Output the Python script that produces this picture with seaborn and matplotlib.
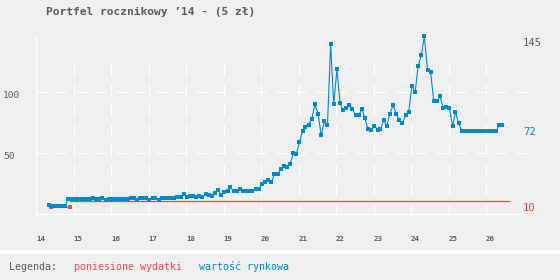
import numpy as np
import pandas as pd
import matplotlib
matplotlib.use("Agg")
import matplotlib.pyplot as plt
import matplotlib.transforms as mtransforms
from matplotlib.lines import Line2D
import seaborn as sns

# wartość rynkowa portfela - odczyty miesięczne od maja 2014
pierwszy_miesiac = "2014-05-01"
wartosc = [
    6.7, 6.0, 6.0, 6.0, 6.0, 6.0,
    12.0, 12.0, 12.0, 12.0, 12.0, 12.0, 12.0, 12.0, 12.8, 12.0, 12.0, 12.8, 11.4, 12.0,
    12.0, 12.0, 12.0, 12.0, 12.0, 12.0, 12.8, 12.8, 11.4, 12.4, 12.4, 12.4,
    11.4, 12.4, 12.4, 11.4, 12.4, 12.4, 12.4, 12.4, 12.4, 13.3, 13.3, 16.0,
    13.3, 14.1, 14.1, 13.3, 14.1, 13.3, 16.0, 15.0, 14.1, 16.8, 19.0, 14.9,
    17.6, 18.2, 21.5, 18.2, 18.8, 19.9, 18.2, 18.8, 18.2, 18.8, 19.8, 19.8,
    23.9, 25.6, 27.3, 25.6, 32.1, 32.1, 36.2, 38.7, 37.9, 40.3, 49.3, 48.5,
    58.4, 67.5, 71.0, 73.0, 77.3, 89.5, 82.0, 64.2, 75.5, 72.3, 139.0, 89.6,
    118.2, 90.3, 84.7, 86.2, 88.7, 86.0, 80.5, 80.5, 85.6, 78.0, 69.0, 68.4,
    72.0, 68.4, 69.0, 76.5, 71.6, 82.0, 88.7, 82.0, 76.5, 73.9, 80.5, 83.0,
    104.9, 99.3, 120.7, 129.7, 145.3, 117.4, 115.8, 92.1, 92.1, 96.0, 86.3, 87.0,
    86.2, 71.6, 83.1, 73.9, 67.5, 67.5, 67.5, 67.5, 67.5, 67.5, 67.5, 67.5,
    67.5, 67.5, 67.5, 67.5, 72.3, 72.3,
]

# poniesione wydatki (5 zł, potem 10 zł)
wydatki_daty = ["2014-05-27", "2014-11-27", "2014-11-27", "2026-08-10"]
wydatki = [5, 5, 10, 10]

lata = list(range(14, 27))
etykiety_lat = [str(r) for r in lata]
poziomy_siatki = [50, 100]

tytul = "Portfel rocznikowy \u201914 - (5 z\u0142)"
opis_legendy = ["poniesione wydatki", "warto\u015b\u0107 rynkowa"]

NIEBIESKI = "#0088cc"
CZERWONY = "#f04848"
SZARY = "#5c5c5c"
TLO = "#efefef"
PX = 0.72  # 1 px w punktach przy dpi=100
W, H = 560, 280


def na_lata(daty):
    d = pd.Series(pd.to_datetime(daty))
    return (d.dt.year - 2000 + (d.dt.dayofyear - 1) / 365.25).to_numpy()


def main():
    plt.rcParams["font.family"] = ["DejaVu Sans Mono", "DejaVu Sans"]

    daty = pd.date_range(pierwszy_miesiac, periods=len(wartosc), freq="MS") + pd.Timedelta(days=9)
    df = pd.DataFrame({"rok": na_lata(daty), "wartosc": wartosc})
    wyd_x = na_lata(wydatki_daty)

    fig = plt.figure(figsize=(W / 100, H / 100), dpi=100, facecolor=TLO)
    # obszar wykresu: x 14 -> 36 px, 37.5 px/rok; y 0 -> 213.5 px, 1.22 px/jedn.
    x0, x1 = 14, 14 + (530 - 36) / 37.5
    y0, y1 = -2.3, 145.6
    ax = fig.add_axes([36 / W, (H - 216.3) / H, 494 / W, 180.3 / H])
    ax.set_facecolor(TLO)
    ax.set_xlim(x0, x1)
    ax.set_ylim(y0, y1)
    for s in ax.spines.values():
        s.set_visible(False)

    # siatka
    ax.vlines(lata[1:], y0, 122.5, colors="white", lw=PX * 1.2,
              linestyles=(0, (12 / 1.2, 8 / 1.2)), zorder=1)
    ax.hlines(poziomy_siatki, x0, 14 + (527 - 36) / 37.5, colors="white", lw=PX * 1.2,
              linestyles=(0, (10 / 1.2, 10 / 1.2)), zorder=1)
    ax.vlines([x0], y0, y1, colors="white", lw=PX * 1.3, zorder=1)
    ax.hlines([-0.4], x0, 14 + (525 - 36) / 37.5, colors="white", lw=PX * 1.3, zorder=1)

    # wydatki
    sns.lineplot(x=wyd_x[:2], y=wydatki[:2], color=CZERWONY, lw=PX * 1.1, marker="s",
                 markersize=PX * 3.2, markeredgewidth=0, ax=ax, zorder=3)
    sns.lineplot(x=wyd_x[2:], y=wydatki[2:], color=CZERWONY, lw=PX * 1.3, ax=ax, zorder=3)

    # wartość rynkowa
    sns.lineplot(data=df, x="rok", y="wartosc", color=NIEBIESKI, lw=PX * 1.1, marker="s",
                 markersize=PX * 3.4, markeredgewidth=0, ax=ax, zorder=4, clip_on=False)

    # osie
    ax.set_xticks(lata)
    ax.set_xticklabels(etykiety_lat, ha="left", fontsize=5.3, color=SZARY, fontweight="bold")
    ax.set_yticks(poziomy_siatki)
    ax.set_yticklabels([str(v) for v in poziomy_siatki], ha="left", fontsize=6.8, color=SZARY)
    ax.tick_params(axis="x", length=0, pad=14)
    ax.tick_params(axis="y", length=0, pad=33 * PX)
    przes = mtransforms.ScaledTranslation(0, -3.3 / 100, fig.dpi_scale_trans)
    for lab in ax.get_yticklabels():
        lab.set_transform(lab.get_transform() + przes)
    ax.set_xlabel("")
    ax.set_ylabel("")

    # etykiety po prawej
    x_et = 14 + (523 - 36) / 37.5
    for val, kol in [(max(wartosc), SZARY), (wartosc[-1], NIEBIESKI), (wydatki[-1], CZERWONY)]:
        ax.annotate(f"{val:.0f}", xy=(x_et, val), xytext=(0, -6.7 * PX), textcoords="offset points",
                    ha="left", va="center", fontsize=7.6, color=kol, annotation_clip=False)

    # tytuł
    fig.text(45.5 / W, 1 - 12 / H, tytul, ha="left", va="center", fontsize=8.1,
             fontweight="bold", color=SZARY)

    # legenda
    fig.add_artist(Line2D([0, 1], [1 - 251.5 / H] * 2, color="white", lw=3.5 * PX,
                          transform=fig.transFigure))
    fig.text(9.3 / W, 1 - 267 / H, "Legenda:", ha="left", va="center", fontsize=7.2, color=SZARY)
    fig.text(74 / W, 1 - 267 / H, opis_legendy[0], ha="left", va="center", fontsize=7.2, color=CZERWONY)
    fig.text(199.3 / W, 1 - 267 / H, opis_legendy[1], ha="left", va="center", fontsize=7.2, color=NIEBIESKI)

    fig.savefig("out.png", dpi=100, facecolor=TLO)
    plt.close(fig)


if __name__ == "__main__":
    main()
